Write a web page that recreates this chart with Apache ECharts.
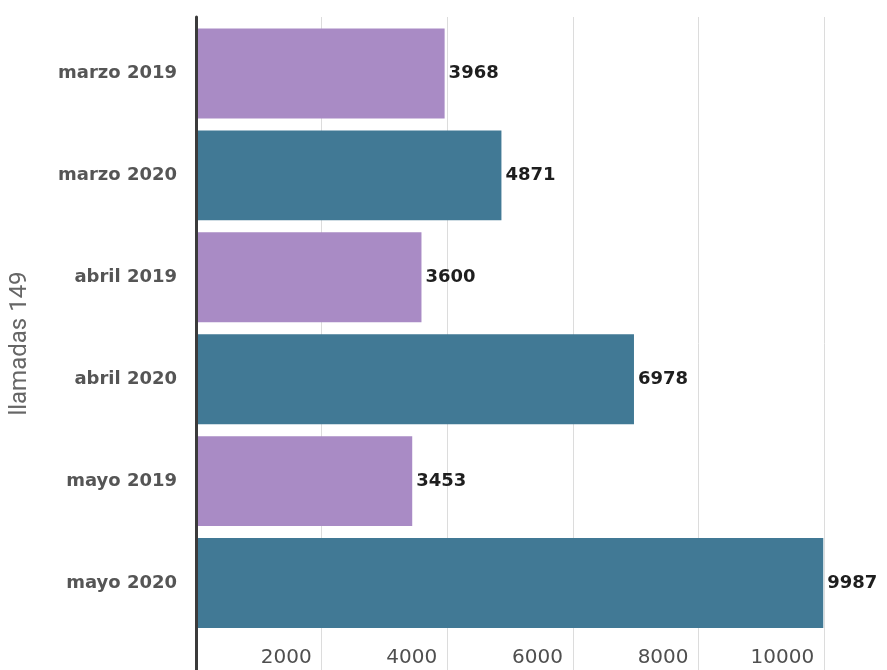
<!DOCTYPE html>
<html>
<head>
<meta charset="utf-8">
<script src="https://cdn.jsdelivr.net/npm/echarts@6/dist/echarts.min.js"></script>
<style>
  html, body { margin: 0; padding: 0; background: #fff; }
  #chart { width: 887px; height: 670px; }
</style>
</head>
<body>
<div id="chart"></div>
<script>
// llamadas a la línea 149, por mes
const categories = ['marzo 2019', 'marzo 2020', 'abril 2019', 'abril 2020', 'mayo 2019', 'mayo 2020'];
const values = [3968, 4871, 3600, 6978, 3453, 9987];
const axisTitle = 'llamadas 149';

const PURPLE = '#a98bc5';
const TEAL = '#417995';

const chart = echarts.init(document.getElementById('chart'), null, { renderer: 'canvas' });

chart.setOption({
  backgroundColor: '#fff',
  animation: false,
  // grid 0: gridlines + the dark vertical axis (full height); grid 1: the bars
  grid: [
    { left: 195, top: 17, width: 695, bottom: 0 },
    { left: 195, top: 22.5, width: 695, bottom: 36 }
  ],
  xAxis: [
    {
      gridIndex: 0, type: 'value', min: 0, max: 11000, interval: 2000,
      axisLine: { show: false }, axisTick: { show: false },
      splitLine: { show: true, lineStyle: { color: '#dcdcdc', width: 1 } },
      axisLabel: {
        inside: true, margin: 2, showMinLabel: false, showMaxLabel: false,
        align: 'right', padding: [0, 10, 0, 0],
        formatter: v => String(v),
        color: '#4f4f4f', fontFamily: 'DejaVu Sans', fontSize: 20
      }
    },
    { gridIndex: 1, type: 'value', min: 0, max: 11000, show: false }
  ],
  yAxis: [
    {
      gridIndex: 0, type: 'value', min: 0, max: 1, z: 5,
      axisLine: { show: true, onZero: false, lineStyle: { color: '#3b3b3b', width: 3 } },
      axisTick: { show: false }, axisLabel: { show: false }, splitLine: { show: false },
      name: axisTitle, nameLocation: 'middle', nameRotate: 90, nameGap: 164,
      nameTextStyle: { color: '#666', fontFamily: 'Roboto', fontSize: 24 }
    },
    {
      gridIndex: 1, type: 'category', data: categories, inverse: true,
      axisLine: { show: false }, axisTick: { show: false },
      axisLabel: { margin: 18, color: '#555', fontFamily: 'DejaVu Sans', fontWeight: 'bold', fontSize: 18 }
    }
  ],
  series: [{
    type: 'bar', xAxisIndex: 1, yAxisIndex: 1,
    data: values,
    barCategoryGap: '11.7%',
    itemStyle: { color: p => categories[p.dataIndex].endsWith('2019') ? PURPLE : TEAL },
    label: {
      show: true, position: 'right', distance: 4,
      color: '#1e1e1e', fontFamily: 'DejaVu Sans', fontWeight: 'bold', fontSize: 18
    }
  }]
});
</script>
</body>
</html>
